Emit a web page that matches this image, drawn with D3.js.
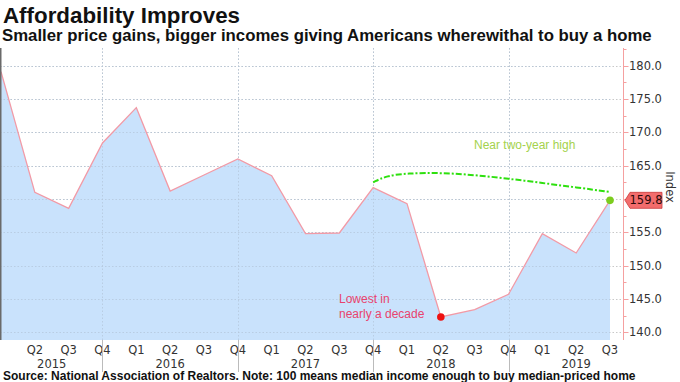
<!DOCTYPE html>
<html><head><meta charset="utf-8">
<script src="https://cdn.jsdelivr.net/npm/d3@7/dist/d3.min.js"></script>
<style>body{margin:0;background:#fff}svg{display:block}</style>
</head><body>
<svg id="c" width="680" height="382"></svg>
<script>
const quarters = ["Q1","Q2","Q3","Q4","Q1","Q2","Q3","Q4","Q1","Q2","Q3","Q4","Q1","Q2","Q3","Q4","Q1","Q2","Q3"];
const years    = [2015,2015,2015,2015,2016,2016,2016,2016,2017,2017,2017,2017,2018,2018,2018,2018,2019,2019,2019];
const values   = [179.1,161.0,158.6,168.4,173.7,161.2,163.6,166.0,163.5,154.8,154.9,161.7,159.3,142.3,143.4,145.7,154.8,151.9,159.8];
const yTicks   = [140,145,150,155,160,165,170,175,180];
const yearLabels = [2015,2016,2017,2018,2019];
// annotation curve (index, value)
const highCurve = [[11,162.5],[11.4,163.5],[12,163.85],[13,163.95],[14,163.6],[15,163.05],[16,162.4],[17,161.75],[18,161.05]];

const svg = d3.select("#c");
const L = 0, R = 610, T = 48, B = 340, AX = 623.5;
const x = d3.scaleLinear().domain([0, 18]).range([1, R]);
const y = d3.scaleLinear().domain([138.85, 182.65]).range([B, T]);
const AXF = "DejaVu Sans, Verdana, sans-serif";
const ANF = "Liberation Sans, Arial, sans-serif";

// grid
const g = svg.append("g");
g.selectAll(".hg").data(yTicks).join("line")
  .attr("x1", L).attr("x2", AX).attr("y1", d => Math.round(y(d)) + 0.5).attr("y2", d => Math.round(y(d)) + 0.5)
  .attr("stroke", "#c8c8c8").attr("stroke-width", 1).attr("stroke-dasharray", "1.5,2");
const q4 = quarters.map((q, i) => q === "Q4" ? i : null).filter(d => d !== null);
g.selectAll(".vg").data(q4).join("line")
  .attr("x1", d => Math.round(x(d)) + 0.5).attr("x2", d => Math.round(x(d)) + 0.5).attr("y1", T).attr("y2", B)
  .attr("stroke", "#c8c8c8").attr("stroke-width", 1).attr("stroke-dasharray", "1.5,2");

// area + line
const area = d3.area().x((d, i) => x(i)).y0(B).y1(d => y(d));
svg.append("path").datum(values).attr("d", area).attr("fill", "#c6e0fc").attr("fill-opacity", 0.95);
svg.append("g").selectAll("line").data(yTicks).join("line")
  .attr("x1", L).attr("x2", R).attr("y1", d => Math.round(y(d)) + 0.5).attr("y2", d => Math.round(y(d)) + 0.5)
  .attr("stroke", "#b4c6da").attr("stroke-width", 1).attr("stroke-dasharray", "1.5,2").attr("opacity", 0.7);
svg.append("g").selectAll("line").data(q4).join("line")
  .attr("x1", d => Math.round(x(d)) + 0.5).attr("x2", d => Math.round(x(d)) + 0.5).attr("y1", T).attr("y2", B)
  .attr("stroke", "#b4c6da").attr("stroke-width", 1).attr("stroke-dasharray", "1.5,2").attr("opacity", 0.7);
const line = d3.line().x((d, i) => x(i)).y(d => y(d));
svg.append("path").datum(values).attr("d", line).attr("fill", "none").attr("stroke", "#f29aa6").attr("stroke-width", 1.3);

// left border
svg.append("line").attr("x1", 0.75).attr("x2", 0.75).attr("y1", T).attr("y2", B).attr("stroke", "#6a6a6a").attr("stroke-width", 1.5);

// right axis
const axis = svg.append("g");
axis.append("line").attr("x1", AX).attr("x2", AX).attr("y1", T).attr("y2", B).attr("stroke", "#f5a0a0").attr("stroke-width", 1);
const minor = d3.range(140, 182.6, 2.5);
axis.selectAll(".tk").data(minor).join("line")
  .attr("x1", AX).attr("x2", d => AX + (d % 5 === 0 ? 5 : 3))
  .attr("y1", d => Math.round(y(d)) + 0.5).attr("y2", d => Math.round(y(d)) + 0.5)
  .attr("stroke", "#f5a0a0");
axis.selectAll(".tl").data(yTicks).join("text")
  .attr("x", 629).attr("y", d => y(d)).attr("dy", "0.36em")
  .attr("font-family", AXF).attr("font-size", 11.5).attr("fill", "#333")
  .text(d => d3.format(".1f")(d));
svg.append("text").attr("transform", `translate(666,${y(161.8)}) rotate(90)`)
  .attr("text-anchor", "middle").attr("font-family", AXF)
  .attr("font-size", 11.5).attr("fill", "#333").text("Index");

// last value tag
const last = values[values.length - 1];
const ly = y(last);
svg.append("path")
  .attr("d", `M625,${ly} L630,${ly - 8} L662,${ly - 8} L662,${ly + 8} L630,${ly + 8} Z`)
  .attr("fill", "#f36c6c").attr("stroke", "#c83a3a").attr("stroke-width", 0.8);
svg.append("text").attr("x", 646).attr("y", ly).attr("dy", "0.36em").attr("text-anchor", "middle")
  .attr("font-family", AXF).attr("font-size", 11.5).attr("fill", "#2a0a0a")
  .text(d3.format(".1f")(last));

// x axis labels
svg.append("g").selectAll("text").data(quarters.map((q, i) => [q, i]).filter(d => d[1] > 0)).join("text")
  .attr("x", d => x(d[1])).attr("y", 354).attr("text-anchor", "middle")
  .attr("font-family", AXF).attr("font-size", 11.5).attr("fill", "#333")
  .text(d => d[0]);
svg.append("g").selectAll("line").data(q4).join("line")
  .attr("x1", d => Math.round(x(d)) + 0.5).attr("x2", d => Math.round(x(d)) + 0.5).attr("y1", B).attr("y2", 372)
  .attr("stroke", "#bbb");
svg.append("g").selectAll("text").data(yearLabels).join("text")
  .attr("x", yr => {
    const idx = years.map((v, i) => v === yr ? i : null).filter(v => v !== null);
    const start = Math.max(0, idx[0] - 1), end = idx[0] + 3;
    return x((start + end) / 2);
  })
  .attr("y", 367.5).attr("text-anchor", "middle")
  .attr("font-family", AXF).attr("font-size", 11.5).attr("fill", "#333")
  .text(d => d);

// annotations
const cl = d3.line().curve(d3.curveBasis).x(d => x(d[0])).y(d => y(d[1]));
svg.append("path").datum(highCurve).attr("d", cl).attr("fill", "none")
  .attr("stroke", "#2ee00e").attr("stroke-width", 2).attr("stroke-dasharray", "6,2,2,2");
svg.append("circle").attr("cx", x(18)).attr("cy", y(last)).attr("r", 3.8).attr("fill", "#7ccd1e");
const minI = values.indexOf(d3.min(values));
svg.append("circle").attr("cx", x(minI)).attr("cy", y(values[minI])).attr("r", 3.8).attr("fill", "#ee1111");
svg.append("text").attr("x", 474).attr("y", 149)
  .attr("font-family", ANF).attr("font-size", 12).attr("fill", "#a4d24c")
  .text("Near two-year high");
const lw = svg.append("text").attr("font-family", ANF).attr("font-size", 12).attr("fill", "#e8436e");
lw.append("tspan").attr("x", 339).attr("y", 303).text("Lowest in");
lw.append("tspan").attr("x", 339).attr("y", 318).text("nearly a decade");

// titles
function fit(sel, target) {
  const fs = parseFloat(sel.attr("font-size"));
  const w = sel.node().getComputedTextLength();
  sel.attr("font-size", (fs * target / w).toFixed(2));
}
const t1 = svg.append("text").attr("x", 3).attr("y", 23).attr("font-family", ANF)
  .attr("font-weight", "bold").attr("font-size", 20).attr("fill", "#111").text("Affordability Improves");
fit(t1, 237);
const t2 = svg.append("text").attr("x", 2).attr("y", 41).attr("font-family", ANF)
  .attr("font-weight", "bold").attr("font-size", 14).attr("fill", "#111")
  .text("Smaller price gains, bigger incomes giving Americans wherewithal to buy a home");
fit(t2, 650);
const t3 = svg.append("text").attr("x", 3).attr("y", 380).attr("font-family", ANF)
  .attr("font-weight", "bold").attr("font-size", 11).attr("fill", "#111")
  .text("Source: National Association of Realtors. Note: 100 means median income enough to buy median-priced home");
fit(t3, 633);
</script>
</body></html>
